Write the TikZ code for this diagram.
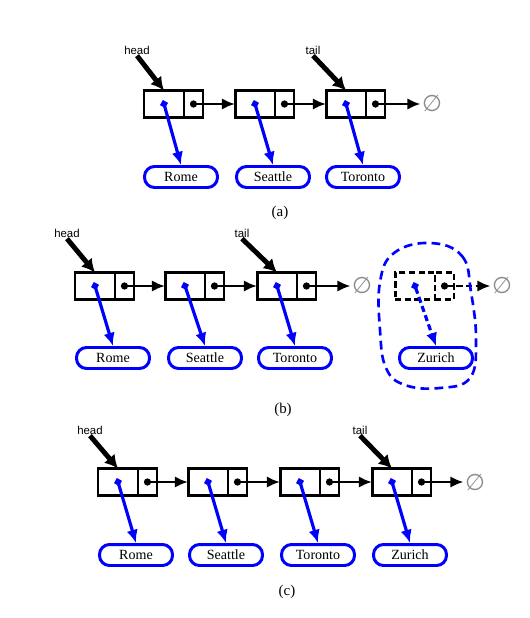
\documentclass[tikz,border=0pt]{standalone}
\usepackage{fontspec}
\setmainfont{Liberation Serif}
\newfontfamily\lblfont{Liberation Sans}
\newfontfamily\symfont{DejaVu Sans}
\usetikzlibrary{arrows.meta,positioning}
\tikzset{
  every picture/.style={line width=1.7pt},
  lcell/.style={draw, rectangle, outer sep=0pt, inner sep=0pt,
                minimum width=0.8cm, minimum height=0.54cm},
  rcell/.style={lcell, minimum width=0.38cm},
  dcell/.style={dashed, dash pattern=on 3.5pt off 2pt},
  elem/.style={draw=blue, rectangle, rounded corners=0.2cm, line width=1.7pt,
               minimum width=1.46cm, minimum height=0.42cm, inner sep=0pt,
               font=\fontsize{8}{9}\selectfont},
  nil/.style={text=black!45, inner sep=0pt, font=\symfont\fontsize{13}{14}\selectfont},
  lbl/.style={inner sep=0pt, font=\lblfont\fontsize{6.5}{7}\selectfont},
  capt/.style={inner sep=0pt, font=\fontsize{8.5}{9}\selectfont},
  nxtdot/.style={line width=1.5pt, {Circle[length=4pt]}-{Latex[length=7.5pt,width=6.5pt]},
                 shorten <=-2pt},
  dptr/.style={blue, line width=1.8pt,
               {Circle[length=4pt]}-{Latex[length=7.5pt,width=6.5pt]}, shorten <=-2pt},
  hptr/.style={line width=2.8pt, -{Latex[length=7.5pt,width=8pt]}},
}
% list node: left cell #2, next cell #2n, at #3
\newcommand{\lnode}[3][]{%
  \node[lcell,#1] (#2) at (#3) {};
  \node[rcell,#1,right=0pt of #2] (#2n) {};
}

\begin{document}
\begin{tikzpicture}[x=0.02cm,y=-0.02cm]
\useasboundingbox (0,0) rectangle (530,618);

% (a)
\lnode{a1}{164,104}
\lnode{a2}{255,104}
\lnode{a3}{346,104}
\node[nil] (an) at (432,104) {∅};
\node[elem] (ea1) at (181,177) {Rome};
\node[elem] (ea2) at (273,177) {Seattle};
\node[elem] (ea3) at (363,177) {Toronto};
\node[lbl] (ah) at (137,50) {head};
\node[lbl] (at) at (313,50) {tail};
\node[capt] (ac) at (280,213) {(a)};
\draw[nxtdot] (a1n.center) -- (a2.west);
\draw[nxtdot] (a2n.center) -- (a3.west);
\draw[nxtdot] (a3n.center) -- (an.west);
\draw[dptr] (a1.center) -- (ea1.north);
\draw[dptr] (a2.center) -- (ea2.north);
\draw[dptr] (a3.center) -- (ea3.north);
\draw[hptr] (ah.south) -- (a1.north);
\draw[hptr] (at.south) -- (a3.north);

% (b)
\lnode{b1}{95,286}
\lnode{b2}{185,286}
\lnode{b3}{277,286}
\lnode[dcell]{b4}{415,286}
\node[nil] (bn) at (362,286) {∅};
\node[nil] (bn4) at (502,286) {∅};
\node[elem] (eb1) at (113,358) {Rome};
\node[elem] (eb2) at (205,358) {Seattle};
\node[elem] (eb3) at (295,358) {Toronto};
\node[elem] (eb4) at (436,358) {Zurich};
\node[lbl] (bh) at (67,233) {head};
\node[lbl] (bt) at (242,233) {tail};
\node[capt] (bc) at (283,410) {(b)};
\draw[nxtdot] (b1n.center) -- (b2.west);
\draw[nxtdot] (b2n.center) -- (b3.west);
\draw[nxtdot] (b3n.center) -- (bn.west);
\draw[nxtdot, dcell] (b4n.center) -- (bn4.west);
\draw[dptr] (b1.center) -- (eb1.north);
\draw[dptr] (b2.center) -- (eb2.north);
\draw[dptr] (b3.center) -- (eb3.north);
\draw[dptr, dcell] (b4.center) -- (eb4.north);
\draw[hptr] (bh.south) -- (b1.north);
\draw[hptr] (bt.south) -- (b3.north);
\draw[blue, line width=1.5pt, dash pattern=on 5pt off 3pt]
  plot[smooth cycle, tension=0.7] coordinates {(430,243) (462,256) (471,292)
  (476,340) (470,378) (440,388) (405,385) (386,368) (380,330) (380,282) (394,253)};

% (c)
\lnode{c1}{118,482}
\lnode{c2}{208,482}
\lnode{c3}{300,482}
\lnode{c4}{392,482}
\node[nil] (cn) at (475,482) {∅};
\node[elem] (ec1) at (136,555) {Rome};
\node[elem] (ec2) at (226,555) {Seattle};
\node[elem] (ec3) at (318,555) {Toronto};
\node[elem] (ec4) at (410,555) {Zurich};
\node[lbl] (ch) at (90,430) {head};
\node[lbl] (ct) at (360,430) {tail};
\node[capt] (cc) at (287,592) {(c)};
\draw[nxtdot] (c1n.center) -- (c2.west);
\draw[nxtdot] (c2n.center) -- (c3.west);
\draw[nxtdot] (c3n.center) -- (c4.west);
\draw[nxtdot] (c4n.center) -- (cn.west);
\draw[dptr] (c1.center) -- (ec1.north);
\draw[dptr] (c2.center) -- (ec2.north);
\draw[dptr] (c3.center) -- (ec3.north);
\draw[dptr] (c4.center) -- (ec4.north);
\draw[hptr] (ch.south) -- (c1.north);
\draw[hptr] (ct.south) -- (c4.north);
\end{tikzpicture}
\end{document}
